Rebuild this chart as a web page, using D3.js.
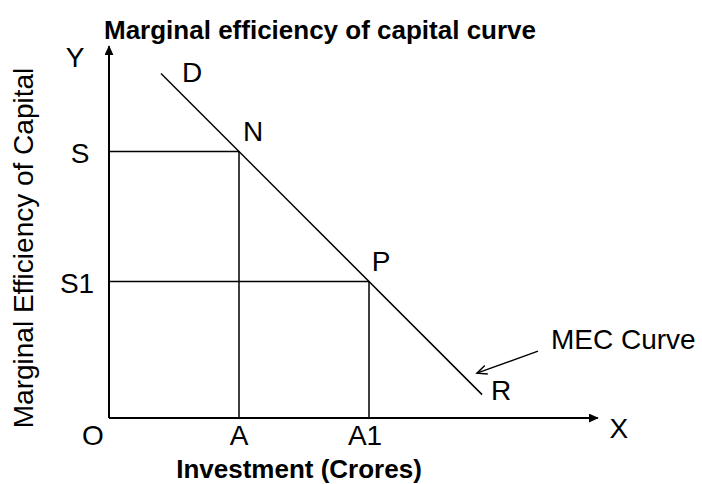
<!DOCTYPE html>
<html>
<head>
<meta charset="utf-8">
<script src="https://cdn.jsdelivr.net/npm/d3@7"></script>
<style>
    body { margin: 0; background: #fff; }
    text { font-family: "Liberation Sans", Arial, sans-serif; fill: #000; }
</style>
</head>
<body>
<svg id="chart"></svg>
<script>
// axis extents (data units)
const xDomain = [0, 7.52];
const yDomain = [0, 5.72];

// MEC curve end points: D (top) and R (bottom)
const mecCurve = [
    {label: 'D', investment: 0.8, mec: 5.3},
    {label: 'R', investment: 5.74, mec: 0.36}
];

// points on the curve with their projections to the axes
const curvePoints = [
    {label: 'N', investment: 2, mec: 4.1, xTick: 'A', yTick: 'S'},
    {label: 'P', investment: 4, mec: 2.1, xTick: 'A1', yTick: 'S1'}
];

// pointer to the curve
const noteText = 'MEC Curve';
const noteFrom = [6.6, 1.03];
const noteTo = [5.66, 0.69];

const titleText = 'Marginal efficiency of capital curve';
const xTitle = 'Investment (Crores)';
const yTitle = 'Marginal Efficiency of Capital';

class MecChart {

    constructor(config) {
        this.config = {
            parent: config.parent,
            width: config.width || 702,
            height: config.height || 484,
            origin: config.origin || {x: 109, y: 418},
            unit: config.unit || 65
        }
        this.init();
    }

    init() {
        let self = this;

        self.svg = d3.select(self.config.parent)
            .attr('width', self.config.width)
            .attr('height', self.config.height);

        let defs = self.svg.append('defs');
        defs.append('marker')
            .attr('id', 'axis-arrow')
            .attr('markerUnits', 'userSpaceOnUse')
            .attr('markerWidth', 10).attr('markerHeight', 10)
            .attr('refX', 9).attr('refY', 4.5)
            .attr('orient', 'auto')
            .append('path')
            .attr('d', 'M0,0 L10,4.5 L0,9 Z')
            .attr('fill', '#000');
        defs.append('marker')
            .attr('id', 'note-arrow')
            .attr('markerUnits', 'userSpaceOnUse')
            .attr('markerWidth', 14).attr('markerHeight', 12)
            .attr('refX', 11).attr('refY', 5)
            .attr('orient', 'auto')
            .append('path')
            .attr('d', 'M1,0.5 L11,5 L1,9.5')
            .attr('fill', 'none')
            .attr('stroke', '#000')
            .attr('stroke-width', 1.4);

        self.xScale = d3.scaleLinear()
            .domain(xDomain)
            .range([self.config.origin.x, self.config.origin.x + (xDomain[1] - xDomain[0]) * self.config.unit]);
        self.yScale = d3.scaleLinear()
            .domain(yDomain)
            .range([self.config.origin.y, self.config.origin.y - (yDomain[1] - yDomain[0]) * self.config.unit]);

        self.chart = self.svg.append('g').attr('class', 'chart');

        // title
        self.svg.append('text')
            .attr('x', 104)
            .attr('y', 39)
            .attr('font-size', '26px')
            .attr('font-weight', 'bold')
            .text(titleText);

        // x title
        self.svg.append('text')
            .attr('x', 299)
            .attr('y', 478)
            .attr('text-anchor', 'middle')
            .attr('font-size', '26px')
            .attr('font-weight', 'bold')
            .text(xTitle);

        // y title
        self.svg.append('text')
            .attr('transform', `translate(33, 248) rotate(-90)`)
            .attr('text-anchor', 'middle')
            .attr('font-size', '28px')
            .text(yTitle);
    }

    render() {
        let self = this;
        const x = self.xScale, y = self.yScale;
        const line = d3.line().x(d => x(d[0])).y(d => y(d[1]));

        // guide lines from the axes to N and P
        let guides = self.chart.append('g').attr('class', 'guides');
        guides.selectAll('path.h')
            .data(curvePoints)
            .join('path')
            .attr('class', 'h')
            .attr('d', d => line([[0, d.mec], [d.investment, d.mec]]));
        guides.selectAll('path.v')
            .data(curvePoints)
            .join('path')
            .attr('class', 'v')
            .attr('d', d => line([[d.investment, 0], [d.investment, d.mec]]));
        guides.selectAll('path')
            .attr('fill', 'none')
            .attr('stroke', '#000')
            .attr('stroke-width', 1.5);

        // MEC curve
        self.chart.append('path')
            .datum(mecCurve.map(d => [d.investment, d.mec]))
            .attr('d', line)
            .attr('fill', 'none')
            .attr('stroke', '#000')
            .attr('stroke-width', 1.5);

        // axes
        self.chart.append('path')
            .attr('d', line([[0, 0], [xDomain[1], 0]]))
            .attr('stroke', '#000')
            .attr('stroke-width', 2)
            .attr('marker-end', 'url(#axis-arrow)');
        self.chart.append('path')
            .attr('d', line([[0, 0], [0, yDomain[1]]]))
            .attr('stroke', '#000')
            .attr('stroke-width', 2)
            .attr('marker-end', 'url(#axis-arrow)');

        // pointer
        self.chart.append('path')
            .attr('d', line([noteFrom, noteTo]))
            .attr('stroke', '#000')
            .attr('stroke-width', 1.4)
            .attr('marker-end', 'url(#note-arrow)');

        let labels = self.svg.append('g')
            .attr('class', 'labels')
            .attr('font-size', '28px');

        // axis names
        labels.append('text').attr('x', x(0) - 34).attr('y', y(yDomain[1]) + 21).attr('text-anchor', 'middle').text('Y');
        labels.append('text').attr('x', x(xDomain[1]) + 21).attr('y', y(0) + 20).attr('text-anchor', 'middle').text('X');
        labels.append('text').attr('x', x(0) - 16).attr('y', y(0) + 27).attr('text-anchor', 'middle').text('O');

        // curve end labels
        labels.selectAll('text.end')
            .data(mecCurve)
            .join('text')
            .attr('class', 'end')
            .attr('x', d => x(d.investment) + (d.label === 'D' ? 31 : 19))
            .attr('y', d => y(d.mec) + (d.label === 'D' ? 8 : 5))
            .attr('text-anchor', 'middle')
            .text(d => d.label);

        // point labels N, P
        labels.selectAll('text.pt')
            .data(curvePoints)
            .join('text')
            .attr('class', 'pt')
            .attr('x', d => x(d.investment) + (d.label === 'N' ? 14 : 12))
            .attr('y', d => y(d.mec) - 11)
            .attr('text-anchor', 'middle')
            .text(d => d.label);

        // x ticks A, A1
        labels.selectAll('text.xt')
            .data(curvePoints)
            .join('text')
            .attr('class', 'xt')
            .attr('x', d => x(d.investment) - (d.xTick === 'A' ? 0 : 4))
            .attr('y', y(0) + 27)
            .attr('text-anchor', 'middle')
            .text(d => d.xTick);

        // y ticks S, S1
        labels.selectAll('text.yt')
            .data(curvePoints)
            .join('text')
            .attr('class', 'yt')
            .attr('x', d => x(0) - (d.yTick === 'S' ? 29 : 32))
            .attr('y', d => y(d.mec) + 11)
            .attr('text-anchor', 'middle')
            .text(d => d.yTick);

        // MEC Curve note
        labels.append('text')
            .attr('x', x(noteFrom[0]) + 13)
            .attr('y', y(noteFrom[1]) - 2)
            .text(noteText);
    }
}

let chart = new MecChart({parent: '#chart', width: 702, height: 484});
chart.render();
</script>
</body>
</html>
